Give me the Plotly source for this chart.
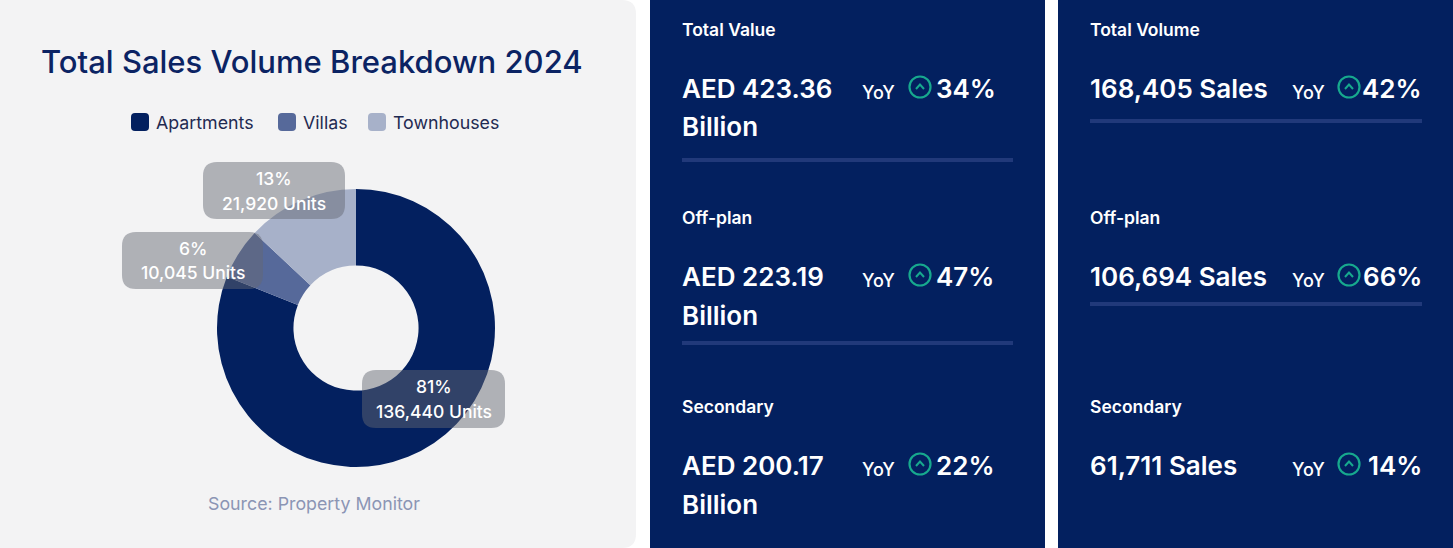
"""
Dubai sales 2024: volume breakdown donut plus value / volume KPI cards
"""

import plotly.graph_objects as go

W, H = 1453, 548

# donut data
segments = ["Apartments", "Villas", "Townhouses"]
units = [136440, 10045, 21920]
shares = [81, 6, 13]
segment_colors = ["#03205f", "#56699a", "#a7b1c9"]

# KPI cards
value_labels = ["Total Value", "Off-plan", "Secondary"]
value_billions = [423.36, 223.19, 200.17]
value_yoy = [34, 47, 22]

volume_labels = ["Total Volume", "Off-plan", "Secondary"]
volume_sales = [168405, 106694, 61711]
volume_yoy = [42, 66, 14]

NAVY = "#03205f"
DIVIDER = "#21397a"
TEAL = "#17a98e"
FONT = "Inter"


def px(x):
    return x / W


def py(y):
    return 1 - y / H


def rounded_rect(x0, y0, x1, y1, r):
    """SVG path for a rounded rectangle, pixel coords -> paper coords"""
    pts = [
        ("M", [(x0 + r, y0)]),
        ("L", [(x1 - r, y0)]),
        ("Q", [(x1, y0), (x1, y0 + r)]),
        ("L", [(x1, y1 - r)]),
        ("Q", [(x1, y1), (x1 - r, y1)]),
        ("L", [(x0 + r, y1)]),
        ("Q", [(x0, y1), (x0, y1 - r)]),
        ("L", [(x0, y0 + r)]),
        ("Q", [(x0, y0), (x0 + r, y0)]),
    ]
    parts = []
    for cmd, coords in pts:
        parts.append(cmd + " " + " ".join(f"{px(a):.5f},{py(b):.5f}" for a, b in coords))
    return " ".join(parts) + " Z"


def text(x, y, s, size, color="white", weight=400, anchor="left"):
    return dict(
        x=px(x), y=py(y), xref="paper", yref="paper", text=s, showarrow=False,
        xanchor=anchor, yanchor="middle",
        font=dict(family=FONT, size=size, color=color, weight=weight),
    )


shapes = []
annotations = []

# backgrounds
shapes.append(dict(type="path", path=rounded_rect(-30, 0, 636, 548, 14),
                   xref="paper", yref="paper", fillcolor="#f3f3f4",
                   line=dict(width=0), layer="below"))
for x0, x1 in [(650, 1045), (1058, 1460)]:
    shapes.append(dict(type="rect", x0=px(x0), x1=px(x1), y0=0, y1=1,
                       xref="paper", yref="paper", fillcolor=NAVY,
                       line=dict(width=0), layer="below"))

fig = go.Figure()

fig.add_trace(go.Pie(
    labels=segments,
    values=units,
    sort=False,
    direction="clockwise",
    rotation=0,
    hole=0.45,
    marker=dict(colors=segment_colors, line=dict(width=0)),
    textinfo="none",
    hoverinfo="label+value+percent",
    showlegend=False,
    domain=dict(x=[px(217), px(495)], y=[py(467), py(189)]),
))

# title, legend, source
annotations.append(text(312, 61, "Total Sales Volume Breakdown 2024", 31,
                        color="#0b2363", weight=500, anchor="center"))
legend_x = [131, 278, 368]
for lx, name, col in zip(legend_x, segments, segment_colors):
    shapes.append(dict(type="path", path=rounded_rect(lx, 113, lx + 18, 131, 4),
                       xref="paper", yref="paper", fillcolor=col, line=dict(width=0)))
    annotations.append(text(lx + 23, 122, name, 17.8, color="#1f2a52"))
annotations.append(text(314, 503, "Source: Property Monitor", 17.8, color="#8b95b4",
                        anchor="center"))

# frosted label boxes on the donut
label_boxes = {
    "Apartments": (362, 370, 505, 428),
    "Villas": (122, 232, 263, 289),
    "Townhouses": (203, 162, 345, 219),
}
for name, u, s in zip(segments, units, shares):
    x0, y0, x1, y1 = label_boxes[name]
    shapes.append(dict(type="path", path=rounded_rect(x0, y0, x1, y1, 14),
                       xref="paper", yref="paper",
                       fillcolor="rgba(100,104,115,0.48)", line=dict(width=0),
                       layer="above"))
    cx = (x0 + x1) / 2
    annotations.append(text(cx, y0 + 16, f"{s}%", 17.5, weight=500, anchor="center"))
    annotations.append(text(cx, y0 + 41, f"{u:,} Units", 17.5, weight=500, anchor="center"))


def yoy_badge(x_yoy, x_circle, x_pct, y, pct, pct_anchor="left"):
    annotations.append(text(x_yoy, y + 4, "YoY", 18, weight=500))
    r = 10.5
    shapes.append(dict(type="circle", xref="paper", yref="paper",
                       x0=px(x_circle - r), x1=px(x_circle + r),
                       y0=py(y - 1 + r), y1=py(y - 1 - r),
                       line=dict(color=TEAL, width=2.2)))
    cy = y - 1
    shapes.append(dict(type="path", xref="paper", yref="paper",
                       path=f"M {px(x_circle - 4):.5f},{py(cy + 2):.5f} "
                            f"L {px(x_circle):.5f},{py(cy - 2.5):.5f} "
                            f"L {px(x_circle + 4):.5f},{py(cy + 2):.5f}",
                       line=dict(color=TEAL, width=2)))
    annotations.append(text(x_pct, y, f"{pct}%", 26, weight=600, anchor=pct_anchor))


# value card
block_y = [0, 188, 377]
for i, (lab, val, yoy) in enumerate(zip(value_labels, value_billions, value_yoy)):
    b = block_y[i]
    annotations.append(text(680, 29 + b, lab, 17.5, weight=600))
    annotations.append(text(680, 88 + b, f"AED {val:.2f}", 26, weight=600))
    annotations.append(text(680, 127 + b, "Billion", 26, weight=600))
    yoy_badge(860, 920, 934, 88 + b, yoy)
    if i < 2:
        dy = 160 + [0, 183][i]
        shapes.append(dict(type="rect", xref="paper", yref="paper",
                           x0=px(682), x1=px(1013), y0=py(dy + 2), y1=py(dy - 2),
                           fillcolor=DIVIDER, line=dict(width=0)))

# volume card
for i, (lab, val, yoy) in enumerate(zip(volume_labels, volume_sales, volume_yoy)):
    b = block_y[i]
    annotations.append(text(1088, 29 + b, lab, 17.5, weight=600))
    annotations.append(text(1088, 88 + b, f"{val:,} Sales", 26, weight=600))
    yoy_badge(1290, 1349, 1424, 88 + b, yoy, pct_anchor="right")
    if i < 2:
        dy = 121 + [0, 183][i]
        shapes.append(dict(type="rect", xref="paper", yref="paper",
                           x0=px(1090), x1=px(1422), y0=py(dy + 2), y1=py(dy - 2),
                           fillcolor=DIVIDER, line=dict(width=0)))

fig.update_layout(
    width=W,
    height=H,
    margin=dict(l=0, r=0, t=0, b=0),
    paper_bgcolor="white",
    plot_bgcolor="white",
    shapes=shapes,
    annotations=annotations,
    showlegend=False,
)

# drop the browser's default body margin so the figure fills the window
fig.write_html("out.html", config={"displayModeBar": False},
               post_script="document.body.style.margin = '0';")
